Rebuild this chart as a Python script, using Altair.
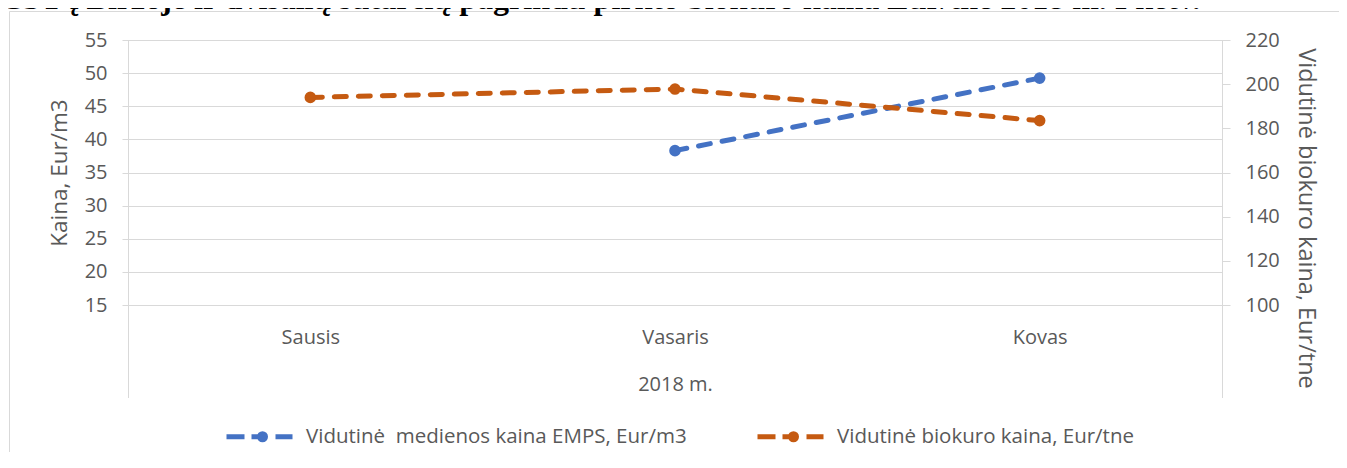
import altair as alt
import pandas as pd

# ---- data ----
months = ["Sausis", "Vasaris", "Kovas"]
wood_months = ["Vasaris", "Kovas"]
wood_values = [38.3, 49.25]          # Eur/m3, left axis
bio_months = ["Sausis", "Vasaris", "Kovas"]
bio_values = [194.0, 197.8, 183.5]   # Eur/tne, right axis
series_names = ["Vidutinė\u00a0 medienos kaina EMPS, Eur/m3", "Vidutinė biokuro kaina, Eur/tne"]
series_colors = ["#4472C4", "#C55A11"]
left_ticks = [15, 20, 25, 30, 35, 40, 45, 50, 55]
right_ticks = [100, 120, 140, 160, 180, 200, 220]
left_title = "Kaina, Eur/m3"
right_title = "Vidutinė biokuro kaina, Eur/tne"
x_title = "2018 m."
chart_title = "CST į Biržoje ir dvišalių sutarčių pagrindu pirkto biokuro kaina Eur/tne 2018 m. I ketv."

wood_df = pd.DataFrame({"month": wood_months, "value": wood_values, "series": series_names[0]})
bio_df = pd.DataFrame({"month": bio_months, "value": bio_values, "series": series_names[1]})

TXT = "#595959"
GRID = "#D9D9D9"
FONT = "Open Sans"
W, H = 1094, 265

# legend symbol: dash, dot, dash (path units = 10 px; drawn wider than its 20 px layout box)
sym_path = ("M-3.3,0L-1.5,0M-0.8,0L0.15,0M1.6,0L3.3,0"
            "M0,0A0.3,0.3,0,1,0,0.6,0A0.3,0.3,0,1,0,0,0"
            "M0.15,0L0.45,0M0.3,-0.15L0.3,0.15")

x_enc = alt.X(
    "month:N",
    sort=months,
    scale=alt.Scale(domain=months, type="point", padding=0.5),
    axis=alt.Axis(ticks=False, domain=False, grid=False, labelAngle=0, labelPadding=22,
                  labelFontSize=20, labelColor=TXT, labelFont=FONT,
                  title=x_title, titleFontSize=20, titleColor=TXT, titleFont=FONT,
                  titleFontWeight="normal", titlePadding=27),
)

left_scale = alt.Scale(domain=[15, 55], nice=False, zero=False)
right_scale = alt.Scale(domain=[100, 220], nice=False, zero=False)

left_axis = alt.Axis(orient="left", values=left_ticks, grid=True, gridColor=GRID, gridWidth=1,
                     domainColor=GRID, tickColor=GRID, tickSize=6, labelPadding=15,
                     labelFontSize=20, labelColor=TXT, labelFont=FONT,
                     title=left_title, titleFontSize=22.5, titleColor=TXT, titleFont=FONT,
                     titleFontWeight="normal", titlePadding=13)
right_axis = alt.Axis(orient="right", values=right_ticks, grid=False,
                      domainColor=GRID, tickColor=GRID, tickSize=8, labelPadding=15,
                      labelFontSize=20, labelColor=TXT, labelFont=FONT,
                      title=right_title, titleFontSize=23.5, titleColor=TXT, titleFont=FONT,
                      titleFontWeight="normal", titlePadding=14, titleY=178)

legend = alt.Legend(orient="none", legendX=119, legendY=384, direction="horizontal",
                    symbolType=sym_path, symbolSize=400, symbolStrokeWidth=5,
                    labelFontSize=20.5, labelColor=TXT, labelFont=FONT, labelOffset=34,
                    columnPadding=60, labelLimit=1000, title=None)

color_enc = alt.Color("series:N", scale=alt.Scale(domain=series_names, range=series_colors),
                      legend=legend)

one = pd.DataFrame({"k": [0]})

# chart-area border (only top and left edges fall inside the picture)
frame_top = alt.Chart(one).mark_rule(color=GRID, strokeWidth=1).encode(
    x=alt.value(-118.5), x2=alt.value(1211), y=alt.value(-28.5))
frame_left = alt.Chart(one).mark_rule(color=GRID, strokeWidth=1).encode(
    x=alt.value(-118.5), y=alt.value(-28.5), y2=alt.value(412))

# category-level separators extending below the plot
rule_l = alt.Chart(one).mark_rule(color=GRID, strokeWidth=1).encode(
    x=alt.value(0.5), y=alt.value(0), y2=alt.value(358))
rule_r = alt.Chart(one).mark_rule(color=GRID, strokeWidth=1).encode(
    x=alt.value(W + 0.5), y=alt.value(0), y2=alt.value(358))

title = alt.Chart(pd.DataFrame({"t": [chart_title]})).mark_text(
    align="left", baseline="alphabetic", font="Liberation Serif", fontSize=32,
    fontWeight="bold", color="black").encode(
    x=alt.value(-128), y=alt.value(-31), text="t:N")

wood_line = alt.Chart(wood_df).mark_line(strokeWidth=5, strokeCap="round").encode(
    x=x_enc, y=alt.Y("value:Q", scale=left_scale, axis=left_axis),
    color=color_enc, strokeDash=alt.value([12, 12]))
bio_line = alt.Chart(bio_df).mark_line(strokeWidth=5, strokeCap="round").encode(
    x=x_enc, y=alt.Y("value:Q", scale=right_scale, axis=right_axis),
    color=color_enc, strokeDash=alt.value([12, 12]))

wood_pts = alt.Chart(wood_df).mark_circle(size=135, opacity=1, color=series_colors[0]).encode(
    x=x_enc, y=alt.Y("value:Q", scale=left_scale, axis=None))
bio_pts = alt.Chart(bio_df).mark_circle(size=135, opacity=1, color=series_colors[1]).encode(
    x=x_enc, y=alt.Y("value:Q", scale=right_scale, axis=None))

chart = alt.layer(frame_top, frame_left, rule_l, rule_r, title,
                  wood_line, bio_line, wood_pts, bio_pts).resolve_scale(
    y="independent"
).properties(
    width=W, height=H,
    autosize=alt.AutoSizeParams(type="none"),
    padding={"left": 120, "top": 32, "right": 117, "bottom": 147},
).configure_view(stroke=None)

chart.save("out.html", embed_options={"renderer": "svg", "actions": False})
